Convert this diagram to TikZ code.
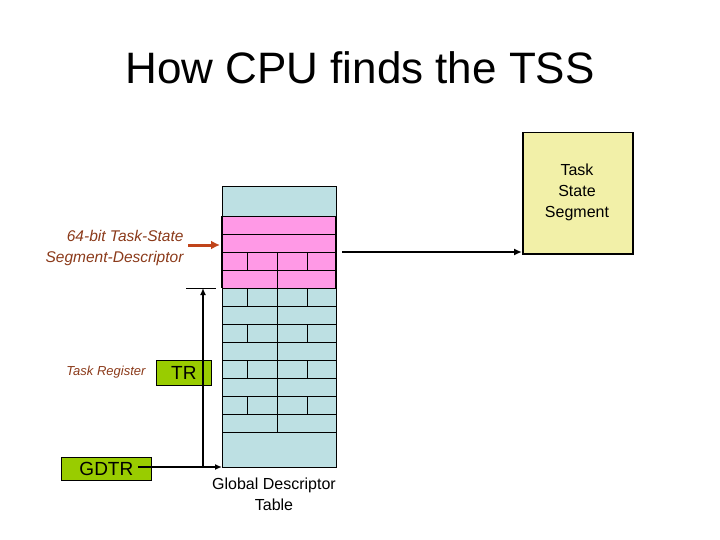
\documentclass[tikz,border=0pt]{standalone}
\usepackage{fontspec}
\setmainfont{Liberation Sans}
\usetikzlibrary{arrows.meta}
\begin{document}
\begin{tikzpicture}[x=1pt,y=-1pt,
  cell/.style={draw=black,line width=0.5pt},
  reg/.style={draw=black,fill=regg,line width=0.8pt,inner sep=0pt,anchor=north west},
  lbl/.style={text=brn,font=\itshape\fontsize{15.5}{21}\selectfont,align=right},
  tip/.style={-{Latex[length=7pt,width=6pt]}}]
\definecolor{gdtc}{HTML}{BDE0E3}
\definecolor{pinkc}{HTML}{FF99E6}
\definecolor{regg}{HTML}{99CC00}
\definecolor{tssc}{HTML}{F2F0A8}
\definecolor{brn}{HTML}{8B3A1A}
\definecolor{arr}{HTML}{C0441A}
\useasboundingbox (0,0) rectangle (720,540);
\node (title) at (360,68) {\fontsize{44}{50}\selectfont How CPU finds the TSS};
% table
\fill[gdtc] (222,186) rectangle (336,467);
\fill[pinkc] (222,216) rectangle (336,288);
\draw[cell] (222,186) rectangle (336,467);
\foreach \y in {216,234,252,270,288,306,324,342,360,378,396,414,432}
  \draw[cell] (222,\y) -- (336,\y);
\foreach \y in {252,288,324,360,396}
  \foreach \x in {247,277,307} \draw[cell] (\x,\y) -- (\x,\y+18);
\foreach \y in {270,306,342,378,414}
  \draw[cell] (277,\y) -- (277,\y+18);
\draw[line width=1.2pt] (222,216) -- (222,288) (336,216) -- (336,288);
\coordinate (desc) at (220,245);
\coordinate (descR) at (342,252);
\coordinate (tssin) at (522,252);
\coordinate (gdtbot) at (222,467);
\coordinate (tssrow) at (203,288);
\node[font=\fontsize{16}{21}\selectfont,align=center] (gdtlbl) at (274,494) {Global Descriptor\\Table};
% TSS
\node[draw=black,fill=tssc,line width=1.5pt,minimum width=110pt,minimum height=121pt,anchor=north west,inner sep=0pt] (tss) at (522,132) {};
\node[font=\fontsize{16}{21}\selectfont,align=center] (tsst) at (577,192) {Task\\State\\Segment};
\draw[line width=2.8pt,-{Latex[length=8pt,width=7pt]}] (descR) -- (tssin);
% labels
\node[lbl,anchor=east] (desclbl) at (187,248) {64-bit Task-State\\Segment-Descriptor};
\draw[arr,line width=3pt,-{Latex[length=9pt,width=9pt]}] (188,245) -- (desc);
\node[text=brn,font=\itshape\fontsize{13}{15}\selectfont,anchor=east] (trl) at (149,372) {Task Register};
\node[reg,minimum width=55pt,minimum height=25pt] (tr) at (156,360) {\fontsize{19}{22}\selectfont TR};
\node[reg,minimum width=90pt,minimum height=23pt] (gdtr) at (61,457) {\fontsize{19}{22}\selectfont GDTR};
% arrows
\draw[line width=1.5pt,tip] (138,467) -- (gdtbot);
\draw[line width=1.5pt,tip] (203,467) -- (tssrow);
\draw[line width=0.6pt] (186,288) -- (216,288);
\end{tikzpicture}
\end{document}
